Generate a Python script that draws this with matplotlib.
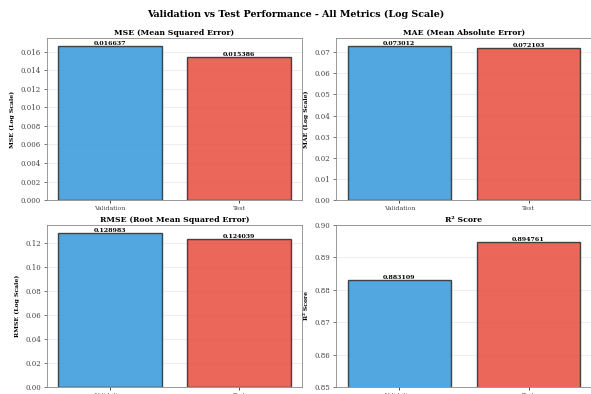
import numpy as np
import matplotlib
matplotlib.use("Agg")
import matplotlib.pyplot as plt

plt.rcParams['font.family'] = ['DejaVu Serif']

splits = ["Validation", "Test"]
metric_titles = ["MSE (Mean Squared Error)", "MAE (Mean Absolute Error)",
                 "RMSE (Root Mean Squared Error)", "R² Score"]
metric_ylabels = ["MSE (Log Scale)", "MAE (Log Scale)", "RMSE (Log Scale)", "R² Score"]
mse = [0.016637, 0.015386]
mae = [0.073012, 0.072103]
rmse = [0.128983, 0.124039]
r2 = [0.883109, 0.894761]
colors = ["#3498db", "#e74c3c"]

fig = plt.figure(figsize=(5.91, 3.94), dpi=100)
positions = [
    [0.0787, 0.492, 0.433, 0.4116],
    [0.5685, 0.492, 0.433, 0.4116],
    [0.0787, 0.0178, 0.433, 0.4112],
    [0.5685, 0.0178, 0.433, 0.4112],
]
values = [mse, mae, rmse, r2]

for i, (vals, title, ylab) in enumerate(zip(values, metric_titles, metric_ylabels)):
    ax = fig.add_axes(positions[i])
    x = np.arange(len(splits))
    ax.bar(x, vals, width=0.8, color=colors, alpha=0.85, edgecolor="#2b2b2b", linewidth=1.0)
    for xi, v in zip(x, vals):
        ax.text(xi, v, f"{v:.6f}", ha="center", va="bottom", fontsize=4.5, fontweight="bold")
    ax.set_xticks(x)
    ax.set_xticklabels(splits, fontsize=4.5, color="#444444")
    ax.tick_params(axis="y", labelsize=5, length=2, width=0.5, pad=2, colors="#444444")
    ax.tick_params(axis="x", length=2, width=0.5, pad=2)
    ax.set_title(title, fontsize=5.6, fontweight="bold", pad=2)
    ax.set_ylabel(ylab, fontsize=4.4, fontweight="bold", labelpad=4)
    if i == 3:
        ax.set_ylim(0.85, 0.90)
    else:
        ax.set_ylim(0, max(vals) * 1.05)
    ax.grid(axis="y", alpha=0.3, linewidth=0.5)
    ax.set_axisbelow(True)
    for s in ax.spines.values():
        s.set_color("#888888")
        s.set_linewidth(0.6)

fig.suptitle("Validation vs Test Performance - All Metrics (Log Scale)",
             fontsize=6.8, fontweight="bold", y=0.975)

fig.savefig("out.png", dpi=100)
